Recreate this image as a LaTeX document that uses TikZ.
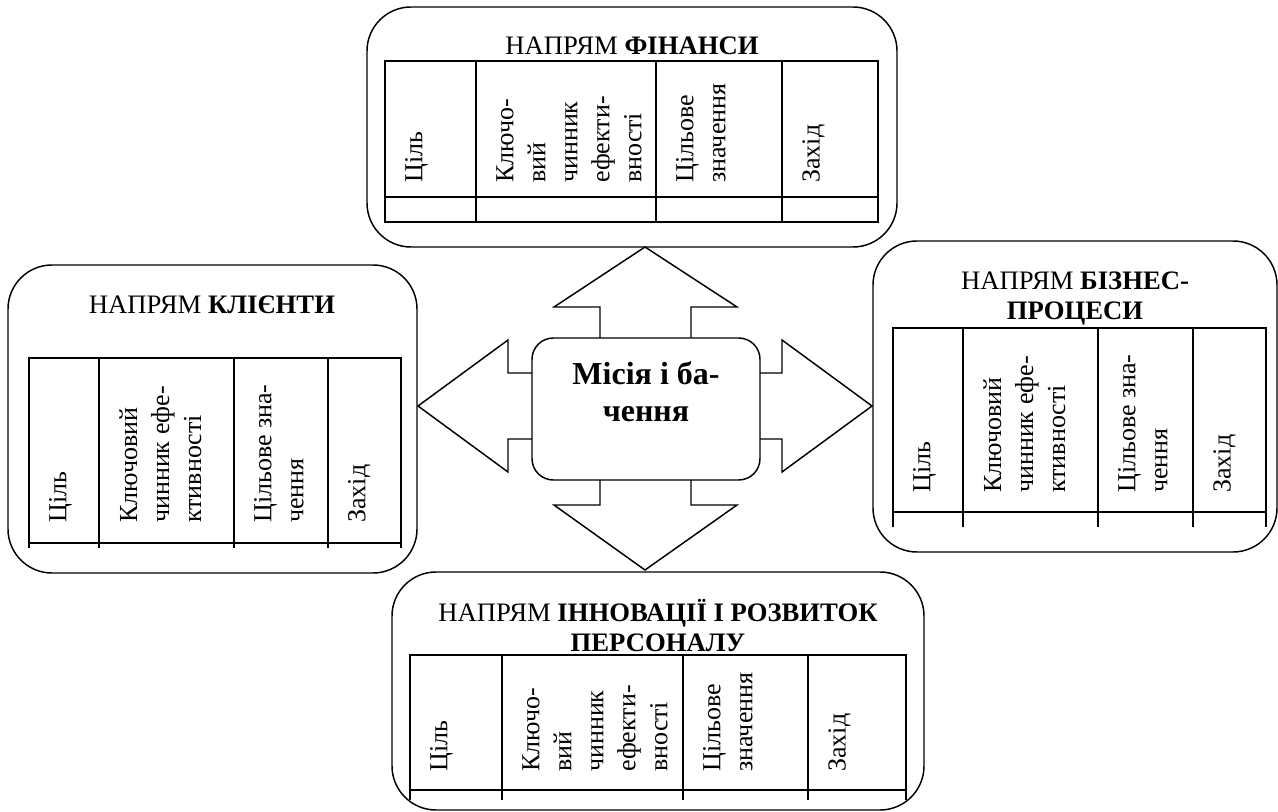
\documentclass[tikz,border=0pt]{standalone}
\usepackage{fontspec}
\setmainfont{Liberation Serif}
\usetikzlibrary{fit}
\begin{document}
\begin{tikzpicture}[x=0.75pt,y=-0.75pt,
  dirbox/.style={draw, line width=1.1pt, rounded corners=33pt, inner sep=0pt},
  midbox/.style={draw, fill=white, line width=1.1pt, rounded corners=16pt, inner sep=0pt},
  tline/.style={line width=1.5pt},
  blk/.style={line width=1.1pt, line join=miter},
  ttl/.style={inner sep=0pt, align=center, font=\fontsize{20}{22.5}\selectfont},
  rot/.style={rotate=90, anchor=north west, inner sep=0pt, align=left, font=\fontsize{19.5}{24}\selectfont},
  mtxt/.style={inner sep=0pt, align=center, font=\fontsize{24}{27.75}\selectfont\bfseries}]
\useasboundingbox (0,0) rectangle (1278,812);

% direction boxes
\node[dirbox, fit={(367,7) (897,247)}] (fin) {};
\node[dirbox, fit={(8,265) (417,573)}] (kli) {};
\node[dirbox, fit={(873,241) (1277,552)}] (biz) {};
\node[dirbox, fit={(392,572) (924,810)}] (inn) {};

% titles (multi-line nodes: base anchor is the last line)
\node[ttl, anchor=base] (tfin) at (632,55) {НАПРЯМ \textbf{ФІНАНСИ}};
\node[ttl, anchor=base] (tkli) at (212,314) {НАПРЯМ \textbf{КЛІЄНТИ}};
\node[ttl, anchor=base] (tbiz) at (1075,320) {НАПРЯМ \textbf{БІЗНЕС-}\\\textbf{ПРОЦЕСИ}};
\node[ttl, anchor=base] (tinn) at (658,651) {НАПРЯМ \textbf{ІННОВАЦІЇ І РОЗВИТОК}\\\textbf{ПЕРСОНАЛУ}};

% tables
\draw[tline] (385,61) rectangle (878,222);
\draw[tline] (385,197) -- (878,197);
\foreach \x in {476,656,782} \draw[tline] (\x,61) -- (\x,222);

\draw[tline] (29,548) -- (29,358) -- (401,358) -- (401,548);
\draw[tline] (29,543) -- (401,543);
\foreach \x in {99,234,328} \draw[tline] (\x,358) -- (\x,548);

\draw[tline] (893,527) -- (893,328) -- (1266,328) -- (1266,527);
\draw[tline] (893,512) -- (1266,512);
\foreach \x in {963,1098,1193} \draw[tline] (\x,328) -- (\x,527);

\draw[tline] (410,800) -- (410,655) -- (906,655) -- (906,800);
\draw[tline] (410,790) -- (906,790);
\foreach \x in {502,683,808} \draw[tline] (\x,655) -- (\x,800);

% column headers
\node[rot] (f1) at (405,183) {Ціль};
\node[rot] (f2) at (496,183) {Ключо-\\вий\\чинник\\ефекти-\\вності};
\node[rot] (f3) at (676,183) {Цільове\\значення};
\node[rot] (f4) at (802,183) {Захід};

\node[rot] (k1) at (49,523) {Ціль};
\node[rot] (k2) at (119,523) {Ключовий\\чинник ефе-\\ктивності};
\node[rot] (k3) at (254,523) {Цільове зна-\\чення};
\node[rot] (k4) at (348,523) {Захід};

\node[rot] (b1) at (913,493) {Ціль};
\node[rot] (b2) at (983,493) {Ключовий\\чинник ефе-\\ктивності};
\node[rot] (b3) at (1118,493) {Цільове зна-\\чення};
\node[rot] (b4) at (1213,493) {Захід};

\node[rot] (i1) at (430,772) {Ціль};
\node[rot] (i2) at (522,772) {Ключо-\\вий\\чинник\\ефекти-\\вності};
\node[rot] (i3) at (703,772) {Цільове\\значення};
\node[rot] (i4) at (828,772) {Захід};

% block arrows
\coordinate (tipU) at (645,247);
\coordinate (tipD) at (645,570);
\coordinate (tipL) at (418,406);
\coordinate (tipR) at (872,406);
\draw[blk] (600,345) -- (600,307) -- (554,307) -- (tipU) -- (737,307) -- (691,307) -- (691,345);
\draw[blk] (600,473) -- (600,505) -- (554,505) -- (tipD) -- (737,505) -- (691,505) -- (691,473);
\draw[blk] (540,373) -- (508,373) -- (508,340) -- (tipL) -- (508,472) -- (508,439) -- (540,439);
\draw[blk] (752,373) -- (782,373) -- (782,340) -- (tipR) -- (782,472) -- (782,439) -- (752,439);

% centre
\node[midbox, fit={(532,338) (760,480)}] (mis) {};
\node[mtxt, anchor=base] (mist) at (646,422) {Місія і ба-\\чення};
\end{tikzpicture}
\end{document}
